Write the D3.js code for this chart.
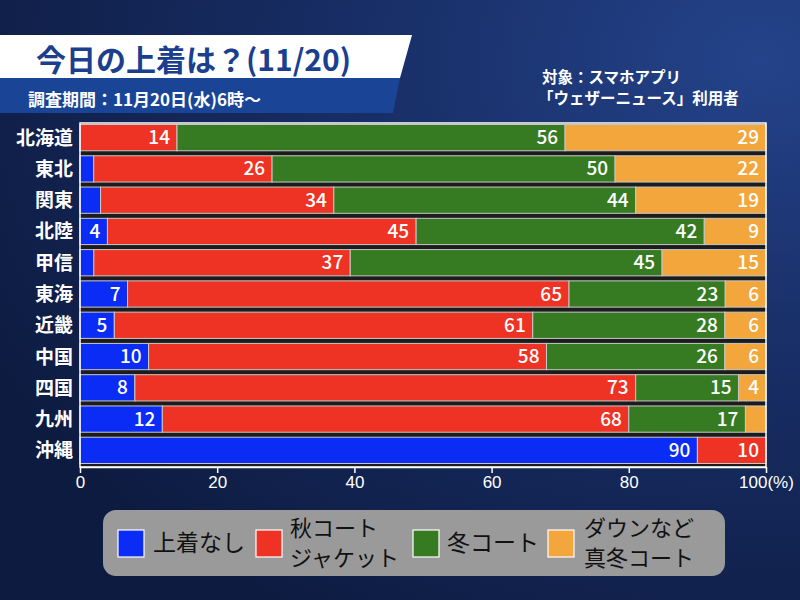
<!DOCTYPE html>
<html><head><meta charset="utf-8">
<script src="https://cdn.jsdelivr.net/npm/d3@7"></script>
<style>html,body{margin:0;padding:0;background:#0f1f45;}svg{display:block;}</style>
</head><body>
<svg id="chart" width="800" height="600"></svg>
<script>
const regions = ["北海道","東北","関東","北陸","甲信","東海","近畿","中国","四国","九州","沖縄"];
const seriesKeys = ["none","autumn","winter","down"];
const seriesNames = [["上着なし"],["秋コート","ジャケット"],["冬コート"],["ダウンなど","真冬コート"]];
const seriesColors = ["#0a2cf5","#ee3324","#367b22","#f2a63b"];
const noneVals   = [0, 2, 3, 4, 2, 7, 5, 10, 8, 12, 90];
const autumnVals = [14, 26, 34, 45, 37, 65, 61, 58, 73, 68, 10];
const winterVals = [56, 50, 44, 42, 45, 23, 28, 26, 15, 17, 0];
const downVals   = [29, 22, 19, 9, 15, 6, 6, 6, 4, 3, 0];
const xTicks = [0, 20, 40, 60, 80, 100];
const titleText = "今日の上着は？(11/20)";
const subtitleText = "調査期間：11月20日(水)6時～";
const targetLines = ["対象：スマホアプリ","「ウェザーニュース」利用者"];

const rows = regions.map((r,i)=>({region:r, none:noneVals[i], autumn:autumnVals[i], winter:winterVals[i], down:downVals[i]}));
const svg = d3.select("#chart");
const defs = svg.append("defs");
const grad = defs.append("radialGradient").attr("id","bg").attr("cx","0.95").attr("cy","0.1").attr("r","1.1");
grad.append("stop").attr("offset","0").attr("stop-color","#24438a");
grad.append("stop").attr("offset","0.45").attr("stop-color","#182e66");
grad.append("stop").attr("offset","1").attr("stop-color","#0d1b40");
svg.append("rect").attr("width",800).attr("height",600).attr("fill","url(#bg)");

// Title block
svg.append("path").attr("d","M0,35 L412,35 L400,78 L0,78 Z").attr("fill","#ffffff");
svg.append("path").attr("d","M0,78 L400,78 L393,113 L0,113 Z").attr("fill","#1a4597");
svg.append("text").attr("x",36).attr("y",71).text(titleText)
  .attr("font-family","'Noto Sans CJK JP', sans-serif").attr("font-weight","bold").attr("font-size",30).attr("fill","#1b3f8e");
svg.append("text").attr("x",28).attr("y",106).text(subtitleText)
  .attr("font-family","'Noto Sans CJK JP', sans-serif").attr("font-weight","bold").attr("font-size",17).attr("fill","#ffffff");
svg.selectAll("text.target").data(targetLines).join("text").attr("class","target")
  .attr("x",(d,i)=> i===0?542:538).attr("y",(d,i)=>83+i*21).text(d=>d)
  .attr("font-family","'Noto Sans CJK JP', sans-serif").attr("font-weight","bold").attr("font-size",15.5).attr("fill","#ffffff");

// Scales
const x = d3.scaleLinear().domain([0,100]).range([80,766]);
const y = d3.scaleBand().domain(regions).range([122,466]).paddingInner(0.16).paddingOuter(0.08);

const stack = d3.stack().keys(seriesKeys).offset(d3.stackOffsetExpand);
const stacked = stack(rows);

// plot bg
svg.append("rect").attr("x",80).attr("y",123).attr("width",686).attr("height",344).attr("fill","#1c1c1c");

const g = svg.append("g");
stacked.forEach((layer,li)=>{
  g.selectAll(null).data(layer.filter(d=>d[1]-d[0]>0)).join("rect")
    .attr("x",d=>x(d[0]*100)).attr("width",d=>x(d[1]*100)-x(d[0]*100))
    .attr("y",d=>y(d.data.region)).attr("height",y.bandwidth())
    .attr("fill",seriesColors[li]).attr("stroke","#c8c8c8").attr("stroke-width",1);
});
stacked.forEach((layer,li)=>{
  g.selectAll(null).data(layer.filter(d=>d.data[seriesKeys[li]]>=4)).join("text")
    .attr("x",d=>x(d[1]*100)-7).attr("y",d=>y(d.data.region)+y.bandwidth()/2+6.5)
    .attr("text-anchor","end").text(d=>d.data[seriesKeys[li]])
    .attr("font-family","'Noto Sans CJK JP', sans-serif").attr("font-weight","500").attr("font-size",19).attr("fill","#ffffff");
});
// plot frame
svg.append("rect").attr("x",80).attr("y",123).attr("width",686).attr("height",344)
  .attr("fill","none").attr("stroke","#ffffff").attr("stroke-width",1.5);

// region labels
svg.selectAll("text.cat").data(regions).join("text").attr("class","cat")
  .attr("x",73).attr("y",d=>y(d)+y.bandwidth()/2+7).attr("text-anchor","end").text(d=>d)
  .attr("font-family","'Noto Sans CJK JP', sans-serif").attr("font-weight","bold").attr("font-size",19).attr("fill","#ffffff");

// x axis
const xAxis = d3.axisBottom(x).tickValues(xTicks).tickSize(6).tickSizeOuter(0)
  .tickFormat(d=> d===100 ? "100(%)" : String(d));
const ax = svg.append("g").attr("transform","translate(0,467)").call(xAxis);
ax.select(".domain").attr("stroke","#ffffff").attr("stroke-width",1.5);
ax.selectAll(".tick line").attr("stroke","#ffffff").attr("stroke-width",1.5);
ax.selectAll(".tick text").attr("fill","#ffffff").attr("font-family","'Liberation Sans', Arial, sans-serif")
  .attr("font-size",17).attr("dy","0.71em").attr("y",9);

// Legend
svg.append("rect").attr("x",103).attr("y",510).attr("width",622).attr("height",66).attr("rx",13).attr("fill","#9a9a9a");
const swX = [118, 256, 413, 548];
const txX = [153, 290, 447, 584];
seriesKeys.forEach((k,i)=>{
  svg.append("rect").attr("x",swX[i]).attr("y",530).attr("width",26).attr("height",27)
    .attr("fill",seriesColors[i]).attr("stroke","#ffffff").attr("stroke-width",1.2);
  const lines = seriesNames[i];
  lines.forEach((t,j)=>{
    const cy = lines.length===1 ? 543 : (j===0?528:558);
    svg.append("text").attr("x",txX[i]).attr("y",cy+8).text(t)
      .attr("font-family","'Noto Sans CJK JP', sans-serif").attr("font-size",lines.length===1?23:22).attr("fill","#111111");
  });
});
</script>
</body></html>
